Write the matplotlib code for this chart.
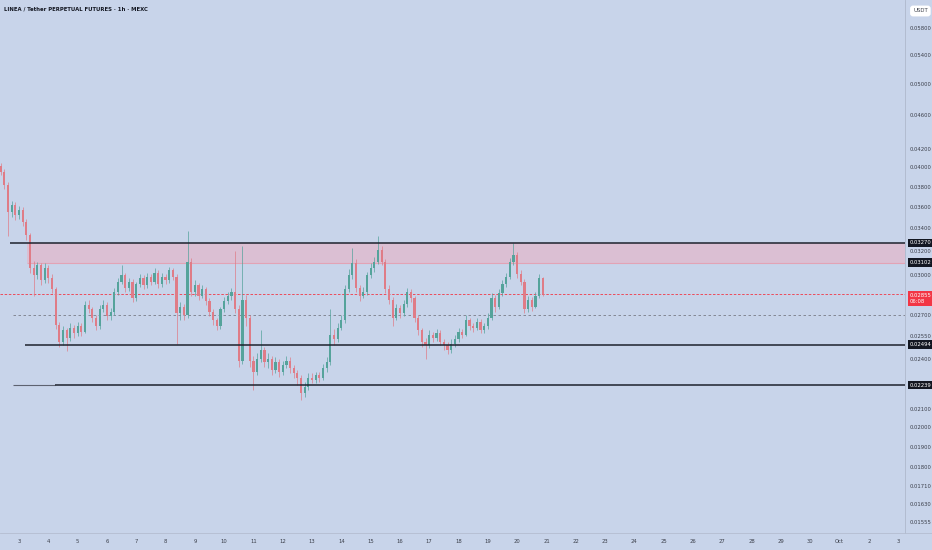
import matplotlib
matplotlib.use('Agg')
import matplotlib.pyplot as plt

TITLE = 'LINEA / Tether PERPETUAL FUTURES · 1h · MEXC'

# candles: 3h bars starting Sep 2 09:00 (x in "day of September")
START_DAY = 2.375
STEP = 0.125
OPEN0 = 0.0402
CLOSE = [
    0.0395, 0.0382, 0.0355, 0.0362, 0.0352, 0.0357, 0.0346, 0.0334, 0.0306, 0.0300,
    0.0308, 0.0296, 0.0306, 0.0298, 0.0289, 0.0263, 0.0251, 0.0259, 0.0254, 0.0261,
    0.0257, 0.0262, 0.0258, 0.0277, 0.0274, 0.0268, 0.0262, 0.0274, 0.0277, 0.0269,
    0.0272, 0.0287, 0.0295, 0.0300, 0.0290, 0.0295, 0.0282, 0.0293, 0.0298, 0.0292,
    0.0299, 0.0295, 0.0302, 0.0293, 0.0299, 0.0296, 0.0304, 0.0299, 0.0271, 0.0276,
    0.0270, 0.0311, 0.0287, 0.0292, 0.0284, 0.0289, 0.0280, 0.0272, 0.0266, 0.0262,
    0.0274, 0.0280, 0.0284, 0.0287, 0.0274, 0.0239, 0.0281, 0.0268, 0.0239, 0.0232,
    0.0240, 0.0246, 0.0238, 0.0240, 0.0233, 0.0238, 0.0232, 0.0236, 0.0239, 0.0234,
    0.0231, 0.0228, 0.0219, 0.0223, 0.0228, 0.0227, 0.0230, 0.0228, 0.0234, 0.0238,
    0.0256, 0.0253, 0.0261, 0.0266, 0.0289, 0.0300, 0.0310, 0.0290, 0.0284, 0.0287,
    0.0300, 0.0306, 0.0311, 0.0321, 0.0311, 0.0289, 0.0281, 0.0268, 0.0275, 0.0271,
    0.0278, 0.0287, 0.0282, 0.0268, 0.0259, 0.0251, 0.0249, 0.0256, 0.0254, 0.0257,
    0.0251, 0.0249, 0.0246, 0.0250, 0.0253, 0.0258, 0.0256, 0.0266, 0.0262, 0.0261,
    0.0265, 0.0259, 0.0262, 0.0268, 0.0282, 0.0276, 0.0286, 0.0293, 0.0299, 0.0311,
    0.0317, 0.0301, 0.0295, 0.0274, 0.0281, 0.0276, 0.0284, 0.0298, 0.02855,
]
HIGH = [
    0.0405, 0.0398, 0.0385, 0.0366, 0.0365, 0.0361, 0.0360, 0.0349, 0.0336, 0.0312,
    0.0311, 0.0310, 0.0310, 0.0308, 0.0301, 0.0291, 0.0265, 0.0262, 0.0261, 0.0264,
    0.0263, 0.0265, 0.0264, 0.0280, 0.0281, 0.0276, 0.0270, 0.0277, 0.0281, 0.0279,
    0.0275, 0.0290, 0.0298, 0.0308, 0.0302, 0.0298, 0.0297, 0.0295, 0.0301, 0.0300,
    0.0302, 0.0301, 0.0306, 0.0304, 0.0302, 0.0301, 0.0307, 0.0306, 0.0301, 0.0279,
    0.0278, 0.0338, 0.0314, 0.0296, 0.0294, 0.0292, 0.0291, 0.0282, 0.0274, 0.0268,
    0.0276, 0.0283, 0.0287, 0.0290, 0.0320, 0.0277, 0.0324, 0.0285, 0.0270, 0.0242,
    0.0244, 0.0259, 0.0248, 0.0244, 0.0242, 0.0241, 0.0240, 0.0239, 0.0242, 0.0241,
    0.0236, 0.0233, 0.0230, 0.0226, 0.0231, 0.0231, 0.0232, 0.0232, 0.0237, 0.0241,
    0.0274, 0.0260, 0.0264, 0.0270, 0.0292, 0.0305, 0.0323, 0.0313, 0.0292, 0.0291,
    0.0303, 0.0310, 0.0315, 0.0333, 0.0324, 0.0313, 0.0292, 0.0283, 0.0278, 0.0277,
    0.0281, 0.0290, 0.0289, 0.0284, 0.0270, 0.0261, 0.0254, 0.0259, 0.0258, 0.0260,
    0.0259, 0.0253, 0.0251, 0.0253, 0.0256, 0.0261, 0.0260, 0.0270, 0.0268, 0.0264,
    0.0268, 0.0267, 0.0264, 0.0271, 0.0286, 0.0285, 0.0289, 0.0296, 0.0302, 0.0314,
    0.0327, 0.0319, 0.0304, 0.0297, 0.0284, 0.0283, 0.0287, 0.0301, 0.0299,
]
LOW = [
    0.0392, 0.0378, 0.0333, 0.0350, 0.0348, 0.0349, 0.0342, 0.0330, 0.0302, 0.0284,
    0.0297, 0.0292, 0.0294, 0.0294, 0.0286, 0.0260, 0.0248, 0.0249, 0.0245, 0.0252,
    0.0254, 0.0255, 0.0255, 0.0257, 0.0271, 0.0265, 0.0259, 0.0260, 0.0272, 0.0266,
    0.0266, 0.0270, 0.0285, 0.0293, 0.0287, 0.0288, 0.0279, 0.0280, 0.0291, 0.0289,
    0.0290, 0.0292, 0.0293, 0.0290, 0.0291, 0.0293, 0.0294, 0.0296, 0.0250, 0.0266,
    0.0266, 0.0268, 0.0284, 0.0284, 0.0281, 0.0282, 0.0277, 0.0269, 0.0263, 0.0259,
    0.0260, 0.0272, 0.0278, 0.0281, 0.0271, 0.0235, 0.0237, 0.0262, 0.0235, 0.0221,
    0.0230, 0.0238, 0.0235, 0.0234, 0.0230, 0.0231, 0.0229, 0.0230, 0.0234, 0.0231,
    0.0228, 0.0224, 0.0215, 0.0217, 0.0221, 0.0225, 0.0225, 0.0226, 0.0227, 0.0232,
    0.0236, 0.0249, 0.0251, 0.0259, 0.0264, 0.0287, 0.0297, 0.0287, 0.0280, 0.0282,
    0.0285, 0.0298, 0.0303, 0.0309, 0.0308, 0.0286, 0.0278, 0.0262, 0.0266, 0.0268,
    0.0269, 0.0276, 0.0279, 0.0265, 0.0256, 0.0248, 0.0240, 0.0247, 0.0251, 0.0252,
    0.0249, 0.0246, 0.0243, 0.0244, 0.0248, 0.0251, 0.0254, 0.0255, 0.0259, 0.0258,
    0.0259, 0.0257, 0.0257, 0.0260, 0.0266, 0.0272, 0.0274, 0.0284, 0.0291, 0.0297,
    0.0308, 0.0298, 0.0292, 0.0271, 0.0272, 0.0273, 0.0275, 0.0282, 0.0284,
]

# drawn levels
ZONE_LOW = 0.03102
ZONE_HIGH = 0.03270
SUPPORT_1 = 0.02494
SUPPORT_2 = 0.02239
LAST_PRICE = 0.02855
LAST_TIME = '06:08'
MID_DASH = 0.02700

PRICE_TICKS = [0.05800, 0.05400, 0.05000, 0.04600, 0.04200, 0.04000, 0.03800,
               0.03600, 0.03400, 0.03200, 0.03000, 0.02700, 0.02550, 0.02400,
               0.02100, 0.02000, 0.01900, 0.01800, 0.01710, 0.01630, 0.01555]
BOX_LABELS = [0.03270, 0.03102, 0.02494, 0.02239]
DAY_TICKS = list(range(3, 34))
DAY_LABELS = [str(d) for d in range(3, 31)] + ['Oct', '2', '3']

BG = '#c8d4ea'
UP = '#55a39b'
DOWN = '#df7c87'
TXT = '#3b3f4a'
FS = 4.2

plt.rcParams['font.family'] = ['DejaVu Sans']
plt.rcParams['font.stretch'] = 'condensed'

fig = plt.figure(figsize=(9.32, 5.5), dpi=100)
fig.patch.set_facecolor(BG)
ax = fig.add_axes([0, 17 / 550, 905 / 932, 533 / 550])
ax.set_facecolor(BG)
ax.set_yscale('log')
right = 2.35 + 905 / 29.3
ax.set_xlim(2.35, right)
ax.set_ylim(0.01509, 0.0625)

# candles
opens = [OPEN0] + CLOSE[:-1]
xs = [START_DAY + i * STEP for i in range(len(CLOSE))]
for x, o, h, l, c in zip(xs, opens, HIGH, LOW, CLOSE):
    col = UP if c >= o else DOWN
    ax.vlines(x, l, h, color=col, lw=0.5, zorder=3)
    ax.bar(x, abs(c - o), bottom=min(o, c), width=STEP * 0.6, color=col,
           linewidth=0, zorder=4)

# zone + levels
ax.fill_between([3.27, right], ZONE_LOW, ZONE_HIGH, color='#f4a7b9', alpha=0.45,
                lw=0, zorder=1)
ax.hlines(ZONE_LOW, 3.27, right, color='#e2a3b5', lw=0.8, zorder=2)
ax.hlines(ZONE_HIGH, 2.69, right, color='#1e222d', lw=1.1, zorder=5)
ax.hlines(SUPPORT_1, 3.20, right, color='#1e222d', lw=1.1, zorder=5)
ax.hlines(SUPPORT_2, 2.79, 4.23, color='#5d6270', lw=0.8, zorder=5)
ax.hlines(SUPPORT_2, 4.23, right, color='#1e222d', lw=1.1, zorder=5)
ax.hlines(LAST_PRICE, 2.35, right, color='#f23645', lw=0.6, linestyles=(0, (3, 2)),
          zorder=2)
ax.hlines(MID_DASH, 2.79, right, color='#787b86', lw=0.6, linestyles=(0, (3, 3)),
          zorder=2)

# axes look
for s in ['top', 'left', 'bottom']:
    ax.spines[s].set_visible(False)
ax.spines['right'].set_color('#aeb8cc')
ax.spines['right'].set_linewidth(0.6)

ax.yaxis.tick_right()
ax.set_yticks(PRICE_TICKS)
ax.set_yticklabels(['%.5f' % t for t in PRICE_TICKS])
ax.yaxis.set_minor_locator(matplotlib.ticker.NullLocator())
ax.tick_params(axis='y', length=0, pad=3.5, labelsize=FS, labelcolor=TXT)
ax.set_xticks(DAY_TICKS)
ax.set_xticklabels(DAY_LABELS)
ax.tick_params(axis='x', length=0, pad=4, labelsize=FS, labelcolor=TXT)

fig.add_artist(plt.Line2D([0, 1], [17 / 550, 17 / 550], color='#b4bdd0', lw=0.6))

# highlighted price labels
for v in BOX_LABELS:
    ax.annotate('%.5f' % v, xy=(1, v), xycoords=('axes fraction', 'data'),
                xytext=(3.5, 0), textcoords='offset points', va='center', ha='left',
                fontsize=FS, color='white', zorder=10,
                bbox=dict(boxstyle='square,pad=0.3', fc='#131722', ec='none'))
ax.annotate('%.5f\n%s' % (LAST_PRICE, LAST_TIME), xy=(1, LAST_PRICE),
            xycoords=('axes fraction', 'data'), xytext=(3.5, -3.2),
            textcoords='offset points', va='center', ha='left', fontsize=FS,
            color='white', linespacing=1.3, zorder=10,
            bbox=dict(boxstyle='square,pad=0.35', fc='#f23645', ec='none'))

fig.text(913 / 932, 1 - 11 / 550, 'USDT', fontsize=FS, color=TXT, va='center',
         ha='left', bbox=dict(boxstyle='round,pad=0.5', fc='white', ec='none'))
fig.text(4 / 932, 1 - 9 / 550, TITLE, fontsize=4.2, color='#131722', va='center',
         ha='left', fontweight='bold')

fig.savefig('out.png', dpi=100, facecolor=BG)
